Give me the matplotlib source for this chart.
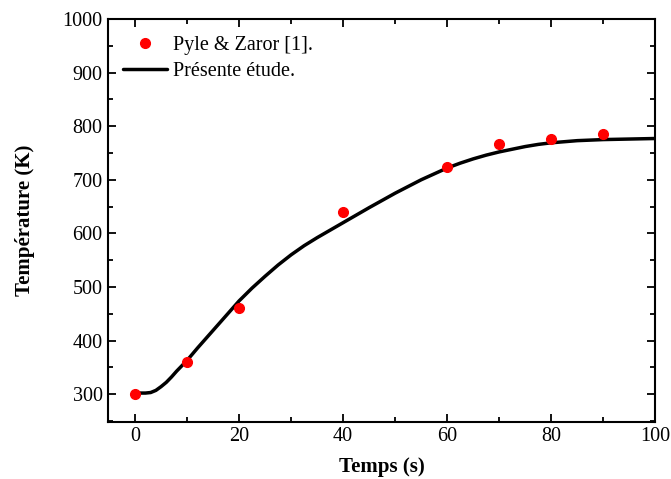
import matplotlib
matplotlib.use("Agg")
import matplotlib.pyplot as plt
from matplotlib.ticker import MultipleLocator

plt.rcParams['font.family'] = ['Liberation Serif', 'DejaVu Serif']

exp_t = [0, 10, 20, 40, 60, 70, 80, 90]
exp_T = [300, 360, 460, 639, 724, 767, 776, 785]

sim_t = [0, 1, 2, 3, 4, 5, 6, 7, 8, 9, 10, 12, 14, 16, 18, 20, 22.5, 25, 27.5, 30, 32.5, 35, 37.5, 40,
         45, 50, 55, 60, 62.5, 65, 67.5, 70, 72.5, 75, 77.5, 80, 85, 90, 95, 100]
sim_T = [302, 302, 302, 303, 307, 314, 322, 332, 343, 353, 363, 386, 408, 430, 452, 474, 498, 520, 541, 560,
         577, 592, 606, 620, 648, 675, 700, 722, 731, 739, 746, 752, 757, 762, 766, 769, 773, 775, 776, 777]

fig = plt.figure(figsize=(6.71, 4.79), dpi=100)
ax = fig.add_axes([107.5/671, 1-422/479, (655.3-107.5)/671, (422-19)/479])

ax.plot(sim_t, sim_T, color='black', lw=2.5, label='Présente étude.', zorder=2,
        solid_joinstyle='round', solid_capstyle='round')
ax.plot(exp_t, exp_T, 'o', color='red', ms=7, label='Pyle & Zaror [1].', zorder=3)

ax.set_xlim(-5.3, 100)
ax.set_ylim(248, 1000)
ax.xaxis.set_major_locator(MultipleLocator(20))
ax.xaxis.set_minor_locator(MultipleLocator(10))
ax.yaxis.set_major_locator(MultipleLocator(100))
ax.yaxis.set_minor_locator(MultipleLocator(50))
ax.tick_params(which='both', direction='in', top=True, right=True, labelsize=14.5, width=1.3)
ax.tick_params(which='major', length=6)
ax.tick_params(which='minor', length=3.5)
ax.set_yticks([300, 400, 500, 600, 700, 800, 900, 1000])
for s in ax.spines.values():
    s.set_linewidth(1.5)

ax.set_xlabel('Temps (s)', fontsize=15, fontweight='bold', labelpad=8)
ax.set_ylabel('Température (K)', fontsize=15, fontweight='bold', labelpad=20)

h, l = ax.get_legend_handles_labels()
ax.legend([h[1], h[0]], [l[1], l[0]], loc='upper left', frameon=False, fontsize=14.5,
          bbox_to_anchor=(-0.005, 1.002), handlelength=2.2, handletextpad=0.3, labelspacing=0.3)

fig.savefig('out.png', dpi=100)
